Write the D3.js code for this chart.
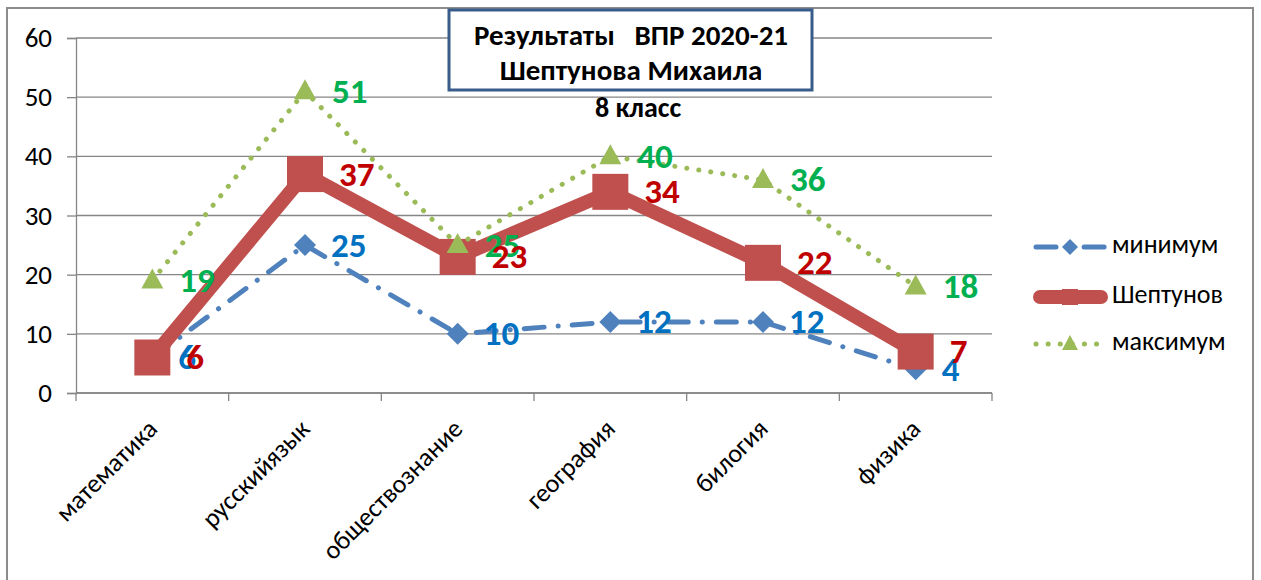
<!DOCTYPE html>
<html>
<head>
<meta charset="utf-8">
<script src="https://cdn.jsdelivr.net/npm/d3@7"></script>
<style>
  body { margin: 0; background: #fff; }
  svg text { font-family: Carlito, Calibri, 'Open Sans', sans-serif; }
</style>
</head>
<body>
<div id="chart"></div>
<script>
'use strict';

// Chart data
const subjects = ['математика', 'русскийязык', 'обществознание', 'география', 'билогия', 'физика'];
const minValues = [6, 25, 10, 12, 12, 4];
const studentValues = [6, 37, 23, 34, 22, 7];
const maxValues = [19, 51, 25, 40, 36, 18];
const yTicks = [0, 10, 20, 30, 40, 50, 60];
const seriesNames = ['минимум', 'Шептунов', 'максимум'];
const titleLines = ['Результаты   ВПР 2020-21', 'Шептунова Михаила'];
const subTitle = '8 класс';

const width = 1261;
const height = 580;
const plot = { left: 76, right: 992, top: 38, bottom: 393 };

const svg = d3.select('#chart').append('svg')
  .attr('width', width)
  .attr('height', height);

// Outer chart frame
svg.append('rect')
  .attr('x', 7).attr('y', 8)
  .attr('width', 1246).attr('height', 600)
  .attr('fill', 'none')
  .attr('stroke', '#8c8c8c')
  .attr('stroke-width', 2);

const x = d3.scaleBand().domain(subjects).range([plot.left, plot.right]);
const y = d3.scaleLinear().domain([0, 60]).range([plot.bottom, plot.top]);
const cx = d => x(d) + x.bandwidth() / 2;

// Horizontal gridlines
svg.append('g')
  .selectAll('line')
  .data(yTicks)
  .join('line')
  .attr('x1', plot.left).attr('x2', plot.right)
  .attr('y1', d => y(d)).attr('y2', d => y(d))
  .attr('stroke', '#868686')
  .attr('stroke-width', 1.3);

// Y axis
const yAxis = svg.append('g')
  .attr('transform', `translate(${plot.left},0)`)
  .call(d3.axisLeft(y).tickValues(yTicks).tickSize(9).tickPadding(15));
yAxis.select('.domain').attr('stroke', '#868686').attr('stroke-width', 1.3);
yAxis.selectAll('.tick line').attr('stroke', '#868686').attr('stroke-width', 1.3);
yAxis.selectAll('.tick text')
  .style('font-size', '27px')
  .attr('fill', '#000');

// X axis with ticks between categories
const xAxis = svg.append('g')
  .attr('transform', `translate(0,${plot.bottom})`);
xAxis.append('line')
  .attr('x1', plot.left).attr('x2', plot.right)
  .attr('stroke', '#868686').attr('stroke-width', 1.3);
const bounds = subjects.map(d => x(d)).concat([plot.right]);
xAxis.selectAll('.xt')
  .data(bounds)
  .join('line')
  .attr('class', 'xt')
  .attr('x1', d => d).attr('x2', d => d)
  .attr('y1', 0).attr('y2', 8)
  .attr('stroke', '#868686').attr('stroke-width', 1.3);
xAxis.selectAll('.xl')
  .data(subjects)
  .join('text')
  .attr('class', 'xl')
  .attr('transform', d => `translate(${cx(d) + 2},${33}) rotate(-45)`)
  .attr('text-anchor', 'end')
  .attr('dominant-baseline', 'middle')
  .style('font-size', '26px')
  .attr('fill', '#000')
  .text(d => d);

// Series definitions
const series = [
  { name: seriesNames[0], values: minValues, color: '#4f81bd', label: '#0070c0', width: 5, dash: '20,14,0.1,14', marker: 'diamond' },
  { name: seriesNames[1], values: studentValues, color: '#c0504d', label: '#c00000', width: 14, dash: null, marker: 'square' },
  { name: seriesNames[2], values: maxValues, color: '#9bbb59', label: '#00b050', width: 5, dash: '0.1,12', marker: 'triangle' }
];

const line = d3.line()
  .x((d, i) => cx(subjects[i]))
  .y(d => y(d));

function drawMarker(g, type, color) {
  if (type === 'diamond') {
    g.append('path').attr('d', 'M0,-11L11,0L0,11L-11,0Z').attr('fill', color);
  } else if (type === 'square') {
    g.append('rect').attr('x', -18).attr('y', -18).attr('width', 36).attr('height', 36).attr('fill', color);
  } else {
    g.append('path').attr('d', 'M0,-12L11,8L-11,8Z').attr('fill', color);
  }
}

series.forEach(s => {
  const g = svg.append('g');
  g.append('path')
    .datum(s.values)
    .attr('d', line)
    .attr('fill', 'none')
    .attr('stroke', s.color)
    .attr('stroke-width', s.width)
    .attr('stroke-linecap', s.dash ? 'round' : 'butt')
    .attr('stroke-linejoin', 'miter')
    .attr('stroke-dasharray', s.dash);
  g.selectAll('.m')
    .data(s.values)
    .join('g')
    .attr('class', 'm')
    .attr('transform', (d, i) => `translate(${cx(subjects[i])},${y(d)})`)
    .each(function () { drawMarker(d3.select(this), s.marker, s.color); });
});

// Data labels (student labels on top)
const labelOffset = { 'минимум': 26, 'Шептунов': 34, 'максимум': 27 };
[series[0], series[2], series[1]].forEach(s => {
  svg.append('g')
    .selectAll('text')
    .data(s.values)
    .join('text')
    .attr('x', (d, i) => cx(subjects[i]) + labelOffset[s.name])
    .attr('y', d => y(d) + 3)
    .attr('dominant-baseline', 'middle')
    .style('font-size', '35px')
    .style('font-weight', 'bold')
    .attr('fill', s.label)
    .text(d => d);
});

// Title box
svg.append('rect')
  .attr('x', 449).attr('y', 10)
  .attr('width', 363).attr('height', 80)
  .attr('fill', '#fff')
  .attr('stroke', '#385d8a')
  .attr('stroke-width', 3);
svg.append('g')
  .selectAll('text')
  .data(titleLines)
  .join('text')
  .attr('x', 631)
  .attr('y', (d, i) => 38 + i * 35)
  .attr('text-anchor', 'middle')
  .attr('dominant-baseline', 'middle')
  .style('font-size', '29px')
  .style('font-weight', 'bold')
  .style('white-space', 'pre')
  .attr('fill', '#000')
  .text(d => d);
svg.append('text')
  .attr('x', 638).attr('y', 110)
  .attr('text-anchor', 'middle')
  .attr('dominant-baseline', 'middle')
  .style('font-size', '28px')
  .style('font-weight', 'bold')
  .attr('fill', '#000')
  .text(subTitle);

// Legend
const legend = svg.append('g')
  .selectAll('g')
  .data(series)
  .join('g')
  .attr('transform', (d, i) => `translate(1033,${[247, 297, 344][i]})`);
legend.append('line')
  .attr('x1', d => d.dash ? 3 : 7).attr('x2', d => d.dash ? 72 : 68)
  .attr('stroke', d => d.color)
  .attr('stroke-width', d => d.width)
  .attr('stroke-linecap', 'round')
  .attr('stroke-dasharray', d => d.dash);
legend.each(function (d) {
  const m = d3.select(this).append('g').attr('transform', 'translate(37,0)');
  if (d.marker === 'square') {
    m.append('rect').attr('x', -8).attr('y', -8).attr('width', 16).attr('height', 16).attr('fill', d.color);
  } else if (d.marker === 'diamond') {
    m.append('path').attr('d', 'M0,-8L8,0L0,8L-8,0Z').attr('fill', d.color);
  } else {
    m.append('path').attr('d', 'M0,-9L8,6L-8,6Z').attr('fill', d.color);
  }
});
legend.append('text')
  .attr('x', 79)
  .attr('dominant-baseline', 'middle')
  .style('font-size', '26px')
  .attr('fill', '#000')
  .text(d => d.name);
</script>
</body>
</html>
